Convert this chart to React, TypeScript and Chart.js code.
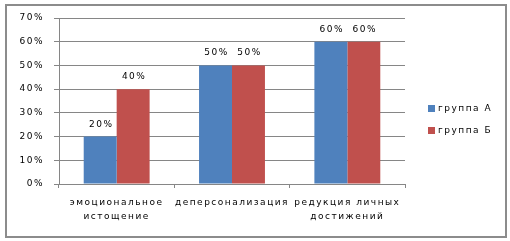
import React, { useEffect, useRef } from "react";
import { Chart, registerables } from "chart.js";

Chart.register(...registerables);

const categories: string[][] = [
  ["эмоциональное", "истощение"],
  ["деперсонализация"],
  ["редукция личных", "достижений"],
];
const seriesNames = ["группа А", "группа Б"];
const groupA = [20, 50, 60];
const groupB = [40, 50, 60];
const yTicksMax = 70;
const yTicksStep = 10;

const FONT = "'DejaVu Sans', sans-serif";
const GRID = "#868686";
const SPACING = "1.5px";

const spacingPlugin = {
  id: "spacing",
  beforeLayout(chart: any) {
    chart.ctx.letterSpacing = SPACING;
  },
  beforeDraw(chart: any) {
    chart.ctx.letterSpacing = SPACING;
  },
};

const valueLabels = {
  id: "valueLabels",
  afterDatasetsDraw(chart: any) {
    const ctx = chart.ctx;
    ctx.save();
    ctx.letterSpacing = SPACING;
    ctx.font = `9px ${FONT}`;
    ctx.fillStyle = "#000";
    ctx.textAlign = "center";
    ctx.textBaseline = "alphabetic";
    chart.data.datasets.forEach((ds: any, i: number) => {
      const meta = chart.getDatasetMeta(i);
      meta.data.forEach((el: any, j: number) => {
        ctx.fillText(ds.data[j] + "%", el.x + 1, el.y - 10);
      });
    });
    ctx.restore();
  },
};

const sideLegend = {
  id: "sideLegend",
  afterDraw(chart: any) {
    const ctx = chart.ctx;
    ctx.save();
    ctx.letterSpacing = SPACING;
    ctx.font = `9px ${FONT}`;
    ctx.textAlign = "left";
    ctx.textBaseline = "middle";
    const x0 = chart.chartArea.right + 23;
    chart.data.datasets.forEach((ds: any, i: number) => {
      const y = 109 + i * 22;
      ctx.fillStyle = ds.backgroundColor;
      ctx.fillRect(x0, y - 4, 7, 7);
      ctx.fillStyle = "#000";
      ctx.fillText(ds.label, x0 + 10, y);
    });
    ctx.restore();
  },
};

export default function App() {
  const ref = useRef<HTMLCanvasElement>(null);
  useEffect(() => {
    document.body.style.margin = "0";
    const chart = new Chart(ref.current!, {
      type: "bar",
      data: {
        labels: categories,
        datasets: [
          { label: seriesNames[0], data: groupA, backgroundColor: "#4F81BD" },
          { label: seriesNames[1], data: groupB, backgroundColor: "#C0504D" },
        ],
      },
      options: {
        responsive: false,
        animation: false,
        devicePixelRatio: 1,
        layout: { padding: { left: 0, top: 18, right: 105, bottom: 0 } },
        datasets: {
          bar: { categoryPercentage: 2 / 3.5, barPercentage: 1 },
        },
        plugins: {
          legend: { display: false },
          tooltip: { enabled: false },
        },
        scales: {
          x: {
            grid: {
              drawOnChartArea: false,
              drawTicks: true,
              tickLength: 4,
              color: GRID,
              offset: true,
            },
            border: { color: GRID, width: 1 },
            ticks: {
              color: "#000",
              font: { family: FONT, size: 9, lineHeight: 1.55 },
              padding: 8,
              maxRotation: 0,
              autoSkip: false,
            },
            afterFit(scale: any) {
              scale.height = 57;
            },
          },
          y: {
            min: 0,
            max: yTicksMax,
            grid: { color: GRID, tickLength: 5 },
            border: { color: GRID, width: 1 },
            ticks: {
              stepSize: yTicksStep,
              color: "#000",
              font: { family: FONT, size: 9 },
              padding: 10,
              callback: (v: any) => v + "%",
            },
            afterFit(scale: any) {
              scale.width = 59;
            },
          },
        },
      },
      plugins: [spacingPlugin, valueLabels, sideLegend],
    });
    return () => chart.destroy();
  }, []);

  return (
    <div style={{ position: "relative", width: 510, height: 241, background: "#fff" }}>
      <canvas ref={ref} width={510} height={241} style={{ position: "absolute", left: 0, top: 0 }} />
      <div
        style={{
          position: "absolute",
          left: 5,
          top: 4,
          width: 502,
          height: 234,
          boxSizing: "border-box",
          border: "2px solid #8c8c8c",
          pointerEvents: "none",
        }}
      />
    </div>
  );
}
